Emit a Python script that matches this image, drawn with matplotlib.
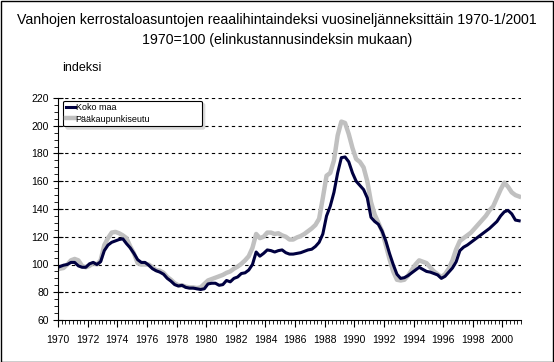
import numpy as np
import matplotlib.pyplot as plt
from matplotlib.patches import Rectangle

plt.rcParams['font.family'] = ['Liberation Sans', 'DejaVu Sans']

# quarterly real price index 1970Q1 .. 2001Q1 (1970=100)
koko_maa = [
    98.5, 99.5, 100, 101.5,      # 1970
    101.5, 99, 98, 98,           # 1971
    100.5, 101.5, 100, 102,      # 1972
    110, 114, 116, 117,          # 1973
    118, 118.5, 115, 112,        # 1974
    108, 103.5, 101.5, 101.5,    # 1975
    99.5, 97, 95.5, 94.5,        # 1976
    93, 90, 88, 85.5,            # 1977
    84.5, 85, 83.5, 83,          # 1978
    83, 82.5, 82, 82.5,          # 1979
    86, 86.5, 86.5, 85,          # 1980
    85.5, 88.5, 87.5, 90,        # 1981
    91, 93.5, 94, 96,            # 1982
    100, 109, 106, 108,          # 1983
    110.5, 110, 109, 110,        # 1984
    110.5, 108.5, 107.5, 107.5,  # 1985
    108, 108.5, 109.5, 110.5,    # 1986
    111, 113, 116, 122,          # 1987
    135, 142, 152, 166,          # 1988
    177, 177.5, 174, 166,        # 1989
    160, 157, 154, 148,          # 1990
    134, 131, 129, 124,          # 1991
    117, 108, 100, 93,           # 1992
    90, 90.5, 92, 94,            # 1993
    96, 98, 96.5, 95,            # 1994
    94.5, 93.5, 92.5, 90,        # 1995
    91.5, 94.5, 97.5, 102,       # 1996
    110, 112.5, 114, 116,        # 1997
    118, 120, 122, 124,          # 1998
    126, 128.5, 131, 135,        # 1999
    138, 139, 136.5, 132,        # 2000
    131.5,                       # 2001
]
paakaupunkiseutu = [
    97, 97.5, 100, 103,
    104, 103, 99, 98,
    99, 101, 100, 103,
    114, 119, 123, 123.5,
    122.5, 121, 119, 113,
    108, 101, 100, 100,
    100, 98, 96, 95.5,
    94, 91, 89, 86.5,
    85, 85, 84, 83.5,
    83.5, 83, 83.5, 86,
    88.5, 89.5, 90.5, 91.5,
    92.5, 94, 95, 97,
    98.5, 100.5, 103, 106,
    112, 122, 119, 120,
    123, 123, 122, 122.5,
    121, 120, 118, 118,
    119.5, 120.5, 122, 124,
    126, 128.5, 133, 148,
    164, 166, 175, 193,
    203, 202, 194, 184,
    176, 174, 170, 160,
    145, 136, 130, 124,
    114, 104, 95, 89,
    88.5, 89, 92, 96,
    100, 103, 102, 101,
    98, 95, 93, 91,
    93, 97, 103, 111,
    117, 119, 121, 123,
    126, 129, 132, 135,
    139, 142, 148, 154,
    159, 156, 152, 150,
    149,
]
years = list(range(1970, 2001, 2))

x = np.arange(len(koko_maa)) + 0.5

fig = plt.figure(figsize=(5.54, 3.62), dpi=100)
ax = fig.add_axes([58/554, 1-320/362, 463/554, 222/362])

for v in range(80, 221, 20):
    ax.axhline(v, color='black', lw=0.8, ls=(0, (3, 3)), zorder=0)

ax.plot(x, paakaupunkiseutu, color='#c0c0c0', lw=3.2, label='Pääkaupunkiseutu',
        solid_joinstyle='round')
ax.plot(x, koko_maa, color='#000040', lw=2.2, label='Koko maa',
        solid_joinstyle='round')

ax.set_xlim(0, 125)
ax.set_ylim(60, 220)
ax.set_xticks(np.arange(0, 121, 8))
ax.set_xticklabels([str(y) for y in years])
ax.set_xticks(np.arange(0, 126, 1), minor=True)
ax.set_yticks(np.arange(60, 221, 20))
ax.set_yticks(np.arange(60, 221, 5), minor=True)
ax.tick_params(axis='x', which='major', length=5, width=0.8, labelsize=7.5, pad=6)
ax.tick_params(axis='x', which='minor', length=3, width=0.6)
ax.tick_params(axis='y', which='major', direction='inout', length=7, width=0.8,
               labelsize=7.5, pad=3)
ax.tick_params(axis='y', which='minor', length=3, width=0.6)
for s in ['top', 'right']:
    ax.spines[s].set_visible(False)
for s in ['left', 'bottom']:
    ax.spines[s].set_linewidth(0.8)

h, l = ax.get_legend_handles_labels()
leg = ax.legend(h[::-1], l[::-1], loc='upper left',
                bbox_to_anchor=(0.011, 0.5, 0.30, 0.488), mode='expand',
                fontsize=6.5, frameon=True, fancybox=True, handlelength=1.0,
                handletextpad=0.1, borderpad=0.3, labelspacing=0.25,
                borderaxespad=0, shadow={'color': '#d9d9d9', 'alpha': 1})
leg.get_frame().set_edgecolor('black')
leg.get_frame().set_linewidth(0.8)
leg.get_frame().set_alpha(1)

fig.text(0.5, 1-20/362, 'Vanhojen kerrostaloasuntojen reaalihintaindeksi vuosineljänneksittäin 1970-1/2001',
         ha='center', va='center', fontsize=10.2)
fig.text(0.5, 1-40/362, '1970=100 (elinkustannusindeksin mukaan)',
         ha='center', va='center', fontsize=10.2)
fig.text(62/554, 1-68/362, 'indeksi', ha='left', va='center', fontsize=9)

fig.add_artist(Rectangle((0.5/554, 0.5/362), 1-1.5/554, 1-1.5/362, transform=fig.transFigure,
                         fill=False, edgecolor='black', lw=1))

fig.savefig('out.png', dpi=100)
